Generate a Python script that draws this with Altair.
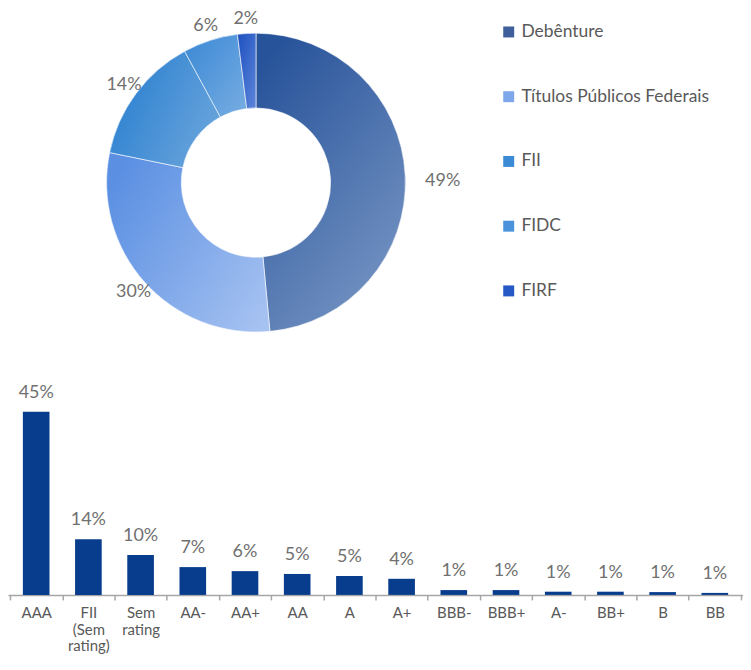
import altair as alt
import pandas as pd

pie_cats = ["Debênture", "Títulos Públicos Federais", "FII", "FIDC", "FIRF"]
pie_vals = [49, 30, 14, 6, 2]
pie_labels = ["49%", "30%", "14%", "6%", "2%"]
pie_colors = ["#3e5f9c", "#7ea6ea", "#3b8ad6", "#4a93da", "#2658c6"]
# gradient (start, end) colours per slice
pie_grad = [("#27539a", "#7896c4"), ("#5a8fe2", "#a6c2f1"), ("#2a7fd0", "#6ca6dc"),
            ("#3a88d5", "#78ade2"), ("#1c4fbf", "#5d86da")]
pie_grad_dir = [(0.2, 0.0, 0.8, 1.0), (0.0, 0.2, 1.0, 0.9), (0.0, 0.3, 1.0, 0.8),
                (0.0, 0.0, 1.0, 1.0), (0.0, 0.0, 1.0, 1.0)]

bar_cats = ["AAA", "FII (Sem rating)", "Sem rating", "AA-", "AA+", "AA", "A", "A+",
            "BBB-", "BBB+", "A-", "BB+", "B", "BB"]
bar_vals = [45.4, 13.8, 9.9, 6.9, 5.9, 5.2, 4.7, 4.0, 1.2, 1.2, 0.8, 0.8, 0.7, 0.5]
bar_labels = ["45%", "14%", "10%", "7%", "6%", "5%", "5%", "4%",
              "1%", "1%", "1%", "1%", "1%", "1%"]

pie_df = pd.DataFrame({"cat": pie_cats, "val": pie_vals, "label": pie_labels,
                       "idx": list(range(len(pie_cats)))})
bar_df = pd.DataFrame({"cat": bar_cats, "val": bar_vals, "label": bar_labels})

FONT = "Lato"
total = sum(pie_vals)
theta_scale = alt.Scale(domain=[0, total])

base = alt.Chart(pie_df).encode(
    theta=alt.Theta("val:Q", stack=True, scale=theta_scale),
    order=alt.Order("idx:Q"),
)
arcs = base.mark_arc(outerRadius=150, innerRadius=75, stroke="white", strokeWidth=0.6).encode(
    color=alt.Color(
        "cat:N",
        scale=alt.Scale(domain=pie_cats, range=pie_colors),
        legend=alt.Legend(
            title=None, orient="none", legendX=494, legendY=14,
            symbolType="square", symbolSize=121, rowPadding=46,
            labelFontSize=17.5, labelColor="#595959", labelFont=FONT,
            labelOffset=4, padding=0, symbolStrokeWidth=0, labelLimit=400,
        ),
    )
)

stacked = alt.Chart(pie_df).transform_stack(
    stack="val", groupby=[], as_=["v0", "v1"], sort=[alt.SortField("idx")]
).transform_calculate(mid="(datum.v0 + datum.v1) / 2")

grad_layers = []
for k in range(len(pie_cats)):
    (c0, c1) = pie_grad[k]
    (gx1, gy1, gx2, gy2) = pie_grad_dir[k]
    g = stacked.transform_filter(
        alt.datum.idx == k
    ).mark_arc(
        outerRadius=150, innerRadius=75, stroke="white", strokeWidth=0.6,
        color=alt.LinearGradient(
            gradient="linear", x1=gx1, y1=gy1, x2=gx2, y2=gy2,
            stops=[alt.GradientStop(offset=0, color=c0), alt.GradientStop(offset=1, color=c1)],
        ),
    ).encode(
        theta=alt.Theta("v0:Q", scale=theta_scale),
        theta2="v1:Q",
    )
    grad_layers.append(g)

# labels of slices on the right half sit left-aligned outside the ring
text_right = stacked.transform_filter(
    alt.datum.mid < total / 2
).mark_text(radius=170, align="left", dy=6, fontSize=18, color="#707070", font=FONT).encode(
    theta=alt.Theta("mid:Q", scale=theta_scale), text="label:N"
)
text_left = stacked.transform_filter(
    alt.datum.mid >= total / 2
).mark_text(radius=165, fontSize=18, color="#707070", font=FONT).encode(
    theta=alt.Theta("mid:Q", scale=theta_scale), text="label:N"
)
donut = alt.layer(arcs, *grad_layers, text_right, text_left).properties(width=498, height=348)

bbase = alt.Chart(bar_df).encode(
    x=alt.X(
        "cat:N", sort=bar_cats,
        scale=alt.Scale(paddingInner=0, paddingOuter=0.04),
        axis=alt.Axis(
            title=None, labelAngle=0, tickBand="extent",
            labelExpr="split(datum.label, ' ')",
            labelFontSize=15, labelColor="#595959", labelFont=FONT,
            labelPadding=6, labelLineHeight=16.5, labelOverlap=False,
            domainColor="#a6a6a6", domainWidth=1.5, tickColor="#a6a6a6",
            tickSize=5, tickWidth=1.5,
        ),
    ),
    y=alt.Y("val:Q", scale=alt.Scale(domain=[0, 53.6]), axis=None),
)
bars = bbase.mark_bar(color="#083c8c", width=alt.RelativeBandSize(0.51))
blabels = bbase.mark_text(dy=-14, baseline="alphabetic", fontSize=18,
                          color="#707070", font=FONT).encode(text="label:N")
barchart = alt.layer(bars, blabels).properties(width=738, height=217)

chart = alt.vconcat(donut, barchart, spacing=23).properties(padding=0).configure_view(
    stroke=None
)

chart.save("out.html", embed_options={"renderer": "svg", "actions": False})
